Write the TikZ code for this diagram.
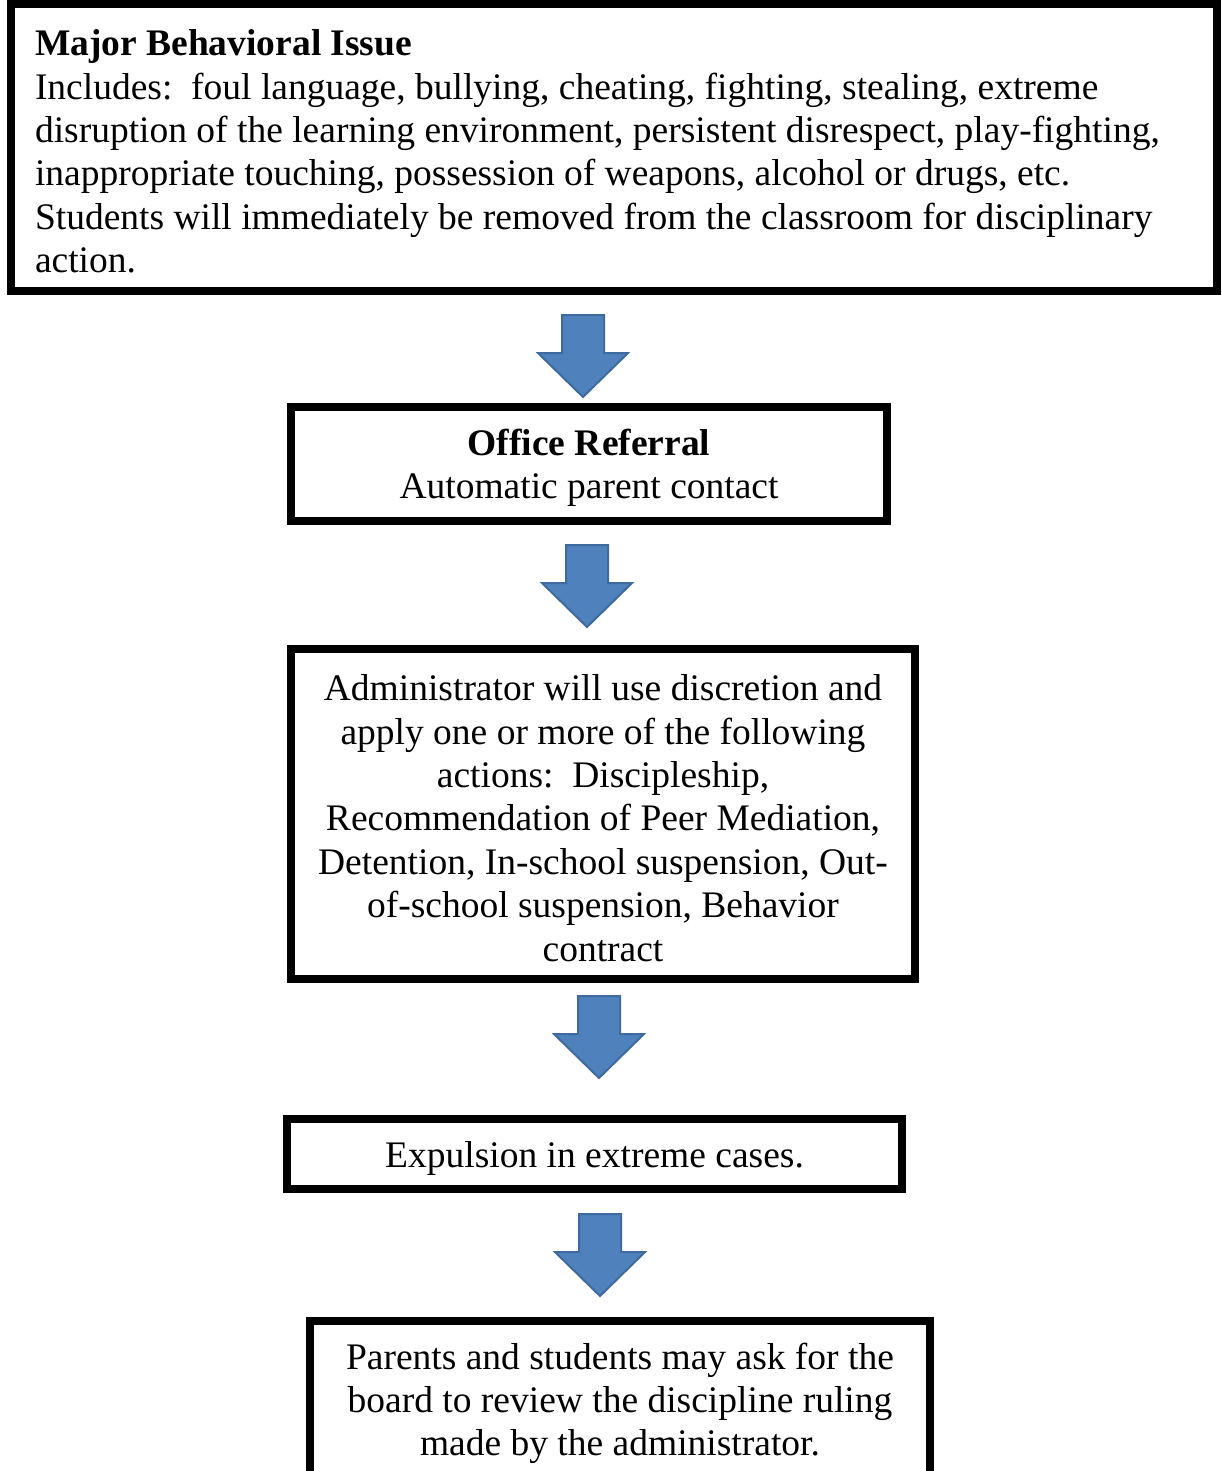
\documentclass[tikz,border=0pt]{standalone}
\usepackage{fontspec}
\setmainfont{Liberation Serif}
\definecolor{arrowblue}{HTML}{4F81BD}
\definecolor{arrowedge}{HTML}{3F6A9E}
\tikzset{
	stepbox/.style={draw, line width=8pt, inner sep=0pt, align=flush center, font=\fontsize{37.5}{43.4}\selectfont, execute at begin node={\rule{0pt}{34pt}}},
	flowarrow/.pic={
		\draw[line width=2pt, draw=arrowedge, fill=arrowblue, line join=miter] (-21,0) -- (21,0) -- (21,38) -- (45,38) -- (0,82) -- (-45,38) -- (-21,38) -- cycle;
	}
}

\begin{document}
\begin{tikzpicture}[x=1pt, y=-1pt]
	\useasboundingbox (0,0) rectangle (1221,1471);
	\node[stepbox, align=flush left, text width=1158pt, inner xsep=24pt, minimum height=287pt] (issue) at (614,147.5) {\textbf{Major Behavioral Issue}\\
		Includes:\ \ foul language, bullying, cheating, fighting, stealing, extreme\\
		disruption of the learning environment, persistent disrespect, play-fighting,\\
		inappropriate touching, possession of weapons, alcohol or drugs, etc.\\
		Students will immediately be removed from the classroom for disciplinary\\
		action.};
	\node[stepbox, text width=596pt, minimum height=114pt] (referral) at (589,464) {\textbf{Office Referral}\\Automatic parent contact};
	\node[stepbox, text width=624pt, minimum height=330pt] (actions) at (603,814) {Administrator will use discretion and\\
		apply one or more of the following\\
		actions:\ \ Discipleship,\\
		Recommendation of Peer Mediation,\\
		Detention, In-school suspension, Out-\\
		of-school suspension, Behavior\\
		contract};
	\node[stepbox, text width=615pt, minimum height=70pt] (expulsion) at (594.5,1154) {Expulsion in extreme cases.};
	\node[stepbox, text width=620pt, minimum height=157pt] (review) at (620,1399.5) {Parents and students may ask for the\\
		board to review the discipline ruling\\
		made by the administrator.};
	% block arrows between the steps
	\pic at (583,315) {flowarrow};
	\pic at (587,545) {flowarrow};
	\pic at (599,996) {flowarrow};
	\pic at (600,1214) {flowarrow};
\end{tikzpicture}
\end{document}
